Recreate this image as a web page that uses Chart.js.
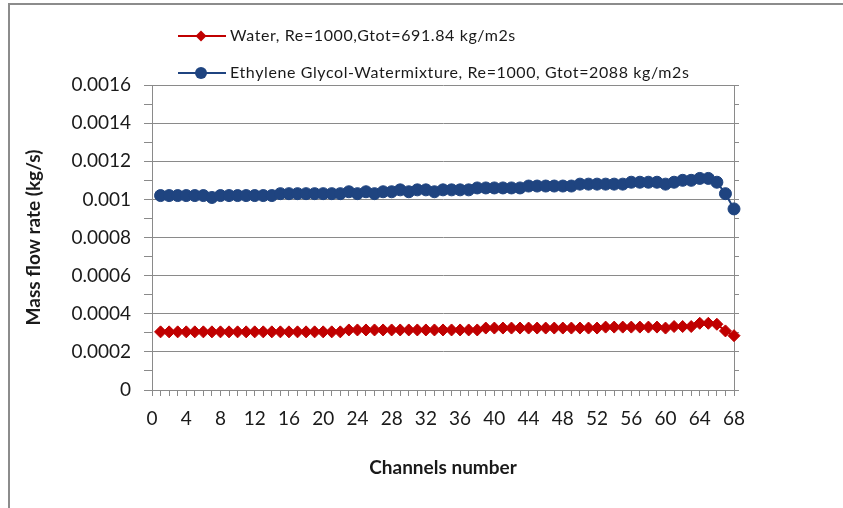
<!DOCTYPE html>
<html>
<head>
<meta charset="utf-8">
<script src="https://cdn.jsdelivr.net/npm/chart.js@4.4.1/dist/chart.umd.min.js"></script>
<style>
html,body{margin:0;padding:0;background:#fff;}
#wrap{width:843px;height:508px;position:relative;}
</style>
</head>
<body>
<div id="wrap"><canvas id="c" width="843" height="508"></canvas></div>
<script>
const channels = Array.from({length: 68}, (_, i) => i + 1);
const waterFlow = [
  0.000305,0.000305,0.000305,0.000305,0.000305,0.000305,0.000305,0.000305,0.000305,0.000305,
  0.000305,0.000305,0.000305,0.000305,0.000305,0.000305,0.000305,0.000305,0.000305,0.000305,
  0.000305,0.000305,0.000315,0.000315,0.000315,0.000315,0.000315,0.000315,0.000315,0.000315,
  0.000315,0.000315,0.000315,0.000315,0.000315,0.000315,0.000315,0.000315,0.000325,0.000325,
  0.000325,0.000325,0.000325,0.000325,0.000325,0.000325,0.000325,0.000325,0.000325,0.000325,
  0.000325,0.000325,0.00033,0.00033,0.00033,0.00033,0.00033,0.00033,0.00033,0.000325,
  0.000333,0.000333,0.000333,0.00035,0.00035,0.000345,0.00031,0.000285
];
const glycolFlow = [
  0.00102,0.00102,0.00102,0.00102,0.00102,0.00102,0.00101,0.00102,0.00102,0.00102,
  0.00102,0.00102,0.00102,0.00102,0.00103,0.00103,0.00103,0.00103,0.00103,0.00103,
  0.00103,0.00103,0.00104,0.00103,0.00104,0.00103,0.00104,0.00104,0.00105,0.00104,
  0.00105,0.00105,0.00104,0.00105,0.00105,0.00105,0.00105,0.00106,0.00106,0.00106,
  0.00106,0.00106,0.00106,0.00107,0.00107,0.00107,0.00107,0.00107,0.00107,0.00108,
  0.00108,0.00108,0.00108,0.00108,0.00108,0.00109,0.00109,0.00109,0.00109,0.00108,
  0.00109,0.0011,0.0011,0.00111,0.00111,0.00109,0.00103,0.00095
];
const seriesLabels = [
  'Water, Re=1000,Gtot=691.84 kg/m2s',
  'Ethylene Glycol-Watermixture, Re=1000, Gtot=2088 kg/m2s'
];
const xTitle = 'Channels number';
const yTitle = 'Mass flow rate (kg/s)';
const yMin = 0, yMax = 0.0016, yMinorStep = 0.0001, yMajorStep = 0.0002;
const xMin = 0, xMax = 68, xMinorStep = 1, xLabelStep = 4;

const RED = '#c00000', BLUE = '#1f4480', GRID = '#8a8a8a';
const FONT = 'Lato';

const isYMajor = v => Math.round(v / yMinorStep) % Math.round(yMajorStep / yMinorStep) === 0;

const framePlugin = {
  id: 'frame',
  beforeDraw(chart) {
    const ctx = chart.ctx;
    ctx.save();
    ctx.fillStyle = '#fff';
    ctx.fillRect(0, 0, chart.width, chart.height);
    ctx.strokeStyle = '#8c8c8c';
    ctx.lineWidth = 2;
    ctx.beginPath();
    ctx.moveTo(9, chart.height + 2);
    ctx.lineTo(9, 4);
    ctx.lineTo(chart.width + 2, 4);
    ctx.stroke();
    ctx.restore();
  }
};

const legendPlugin = {
  id: 'customLegend',
  afterDraw(chart) {
    const ctx = chart.ctx;
    const rows = [36, 73];
    ctx.save();
    chart.data.datasets.forEach((ds, i) => {
      const y = rows[i];
      ctx.strokeStyle = ds.borderColor;
      ctx.lineWidth = 2;
      ctx.beginPath();
      ctx.moveTo(178, y);
      ctx.lineTo(226, y);
      ctx.stroke();
      ctx.fillStyle = ds.borderColor;
      ctx.beginPath();
      if (ds.pointStyle === 'rectRot') {
        const r = 5.5;
        ctx.moveTo(201, y - r); ctx.lineTo(201 + r, y); ctx.lineTo(201, y + r); ctx.lineTo(201 - r, y);
        ctx.closePath();
      } else {
        ctx.arc(201, y, 6, 0, Math.PI * 2);
      }
      ctx.fill();
      ctx.fillStyle = '#1a1a1a';
      ctx.font = '16px ' + FONT;
      try { ctx.letterSpacing = '0.6px'; } catch (e) {}
      ctx.textBaseline = 'middle';
      ctx.textAlign = 'left';
      ctx.fillText(ds.label, 230, y);
      try { ctx.letterSpacing = '0px'; } catch (e) {}
    });
    ctx.restore();
  }
};

new Chart(document.getElementById('c'), {
  type: 'line',
  data: {
    datasets: [
      {
        label: seriesLabels[0],
        data: channels.map((c, i) => ({x: c, y: waterFlow[i]})),
        borderColor: RED, backgroundColor: RED,
        borderWidth: 2, pointStyle: 'rectRot', pointRadius: 6,
        pointBorderWidth: 1, pointHoverRadius: 6, clip: false
      },
      {
        label: seriesLabels[1],
        data: channels.map((c, i) => ({x: c, y: glycolFlow[i]})),
        borderColor: BLUE, backgroundColor: BLUE,
        borderWidth: 2, pointStyle: 'circle', pointRadius: 6,
        pointBorderWidth: 1, pointHoverRadius: 6, clip: false
      }
    ]
  },
  options: {
    responsive: false,
    animation: false,
    layout: {padding: {top: 85, left: 0, right: 0, bottom: 0}},
    plugins: {legend: {display: false}, tooltip: {enabled: false}},
    scales: {
      x: {
        type: 'linear', min: xMin, max: xMax,
        afterFit: s => { s.height = 118; },
        ticks: {
          stepSize: xMinorStep, autoSkip: false, maxRotation: 0, padding: 11,
          color: '#1a1a1a', font: {family: FONT, size: 19},
          callback: v => (Math.round(v) % xLabelStep === 0 ? String(Math.round(v)) : '')
        },
        grid: {drawOnChartArea: false, tickLength: 6, color: GRID, tickColor: GRID},
        border: {color: GRID, width: 1},
        title: {display: true, text: xTitle, color: '#1a1a1a',
                font: {family: FONT, size: 19, weight: 'bold'}, padding: {top: 0, bottom: 29}}
      },
      y: {
        type: 'linear', min: yMin, max: yMax,
        afterFit: s => { s.width = 152; },
        ticks: {
          stepSize: yMinorStep, autoSkip: false, padding: 13,
          color: '#1a1a1a', font: {family: FONT, size: 19},
          callback: v => (isYMajor(v) ? String(parseFloat(v.toFixed(4))) : '')
        },
        grid: {
          tickLength: 8,
          color: c => (c.tick && isYMajor(c.tick.value) ? GRID : 'rgba(0,0,0,0)'),
          tickColor: GRID
        },
        border: {color: GRID, width: 1},
        title: {display: true, text: yTitle, color: '#1a1a1a',
                font: {family: FONT, size: 19, weight: 'bold'}, padding: {top: 22, bottom: 0}}
      },
      y2: {
        type: 'linear', position: 'right', min: yMin, max: yMax,
        afterFit: s => { s.width = 843 - 734; },
        ticks: {display: false, stepSize: yMinorStep},
        grid: {drawOnChartArea: false, tickLength: 5, color: GRID, tickColor: GRID},
        border: {color: GRID, width: 1}
      }
    }
  },
  plugins: [framePlugin, legendPlugin]
});
</script>
</body>
</html>
